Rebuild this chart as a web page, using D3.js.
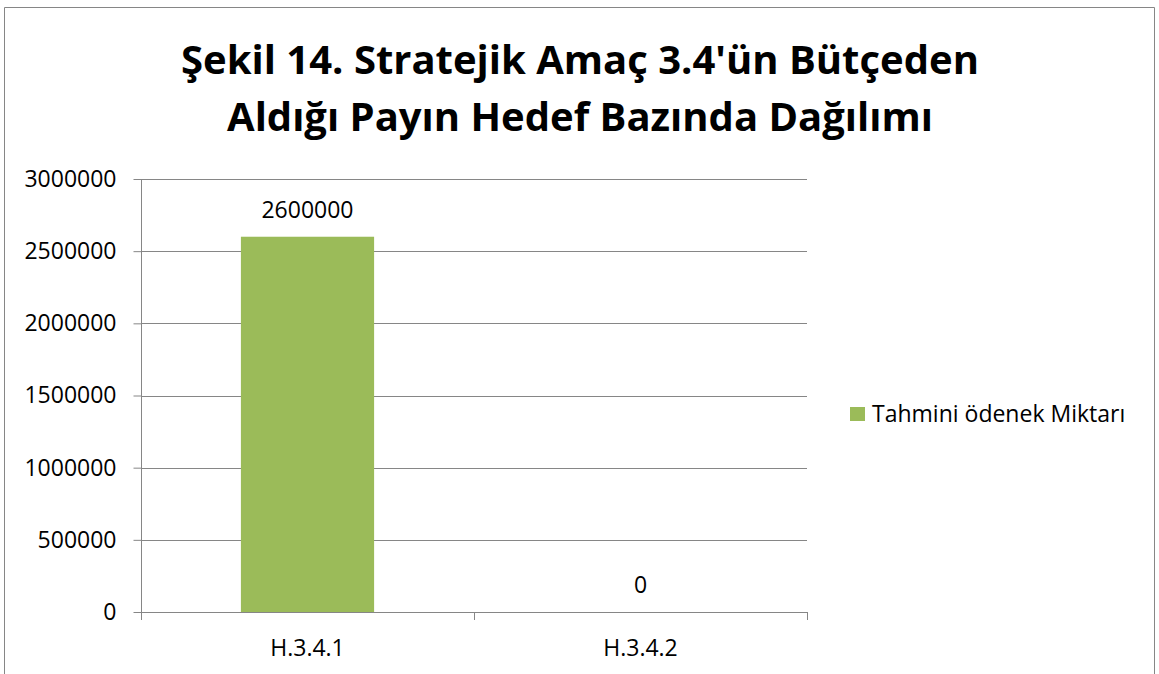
<!DOCTYPE html>
<html>
<head>
<meta charset="utf-8">
<script src="https://cdn.jsdelivr.net/npm/d3@7"></script>
<style>
  html, body { margin: 0; padding: 0; background: #fff; }
  svg { display: block; }
</style>
</head>
<body>
<svg id="chart" width="1159" height="674"></svg>
<script>
const titleLines = ["Şekil 14. Stratejik Amaç 3.4'ün Bütçeden", "Aldığı Payın Hedef Bazında Dağılımı"];
const categories = ["H.3.4.1", "H.3.4.2"];
const seriesName = "Tahmini ödenek Miktarı";
const values = [2600000, 0];
const yTicks = [0, 500000, 1000000, 1500000, 2000000, 2500000, 3000000];

const font = "'Open Sans', sans-serif";
const gridColor = "#868686";
const barColor = "#9BBB59";
const labelSize = 23;

const svg = d3.select("#chart");

// outer chart frame
svg.append("path")
  .attr("d", "M4.5,674 V7.5 H1154.5 V674")
  .attr("fill", "none").attr("stroke", gridColor).attr("stroke-width", 1);

// title
svg.append("g").selectAll("text").data(titleLines).join("text")
  .attr("x", 580).attr("y", (d, i) => 74 + i * 57)
  .attr("text-anchor", "middle")
  .attr("font-family", font).attr("font-weight", "bold").attr("font-size", 40)
  .attr("fill", "#000")
  .text(d => d);

const plot = { left: 141, right: 807, top: 179, bottom: 612 };

const x = d3.scaleBand().domain(categories).range([plot.left, plot.right]).paddingInner(0.6).paddingOuter(0.3);
const xOuter = d3.scaleBand().domain(categories).range([plot.left, plot.right]);
const y = d3.scaleLinear().domain([0, 3000000]).range([plot.bottom, plot.top]);

// horizontal gridlines
svg.append("g").selectAll("line").data(yTicks.filter(t => t > 0)).join("line")
  .attr("x1", plot.left).attr("x2", plot.right)
  .attr("y1", d => Math.round(y(d)) + 0.5).attr("y2", d => Math.round(y(d)) + 0.5)
  .attr("stroke", gridColor).attr("stroke-width", 1);

// bars
svg.append("g").selectAll("rect").data(values).join("rect")
  .attr("x", (d, i) => x(categories[i]))
  .attr("width", x.bandwidth())
  .attr("y", d => y(d))
  .attr("height", d => y(0) - y(d))
  .attr("fill", barColor);

// y axis
const yAxis = svg.append("g")
  .attr("transform", `translate(${plot.left + 0.5},0)`)
  .call(d3.axisLeft(y).tickValues(yTicks).tickSize(8).tickPadding(17).tickFormat(d3.format("d")));
yAxis.select(".domain").attr("stroke", gridColor).attr("d", `M0,${plot.top}V${plot.bottom + 8}`);
yAxis.selectAll(".tick line").attr("stroke", gridColor);
yAxis.selectAll(".tick text")
  .attr("font-family", font).attr("font-size", labelSize).attr("fill", "#000");

// x axis
const xAxis = svg.append("g")
  .attr("transform", `translate(0,${plot.bottom + 0.5})`)
  .call(d3.axisBottom(xOuter).tickSize(0).tickPadding(27));
xAxis.select(".domain").attr("stroke", gridColor).attr("d", `M${plot.left},0H${plot.right}`);
xAxis.selectAll(".tick text")
  .attr("font-family", font).attr("font-size", labelSize).attr("fill", "#000");
// category separators
const seps = [xOuter(categories[1]), plot.right];
svg.append("g").selectAll("line").data(seps).join("line")
  .attr("x1", d => Math.round(d) + 0.5).attr("x2", d => Math.round(d) + 0.5)
  .attr("y1", plot.bottom).attr("y2", plot.bottom + 8)
  .attr("stroke", gridColor);

// value labels
svg.append("g").selectAll("text").data(values).join("text")
  .attr("x", (d, i) => x(categories[i]) + x.bandwidth() / 2)
  .attr("y", d => y(d) - 19)
  .attr("text-anchor", "middle")
  .attr("font-family", font).attr("font-size", labelSize).attr("fill", "#000")
  .text(d => d);

// legend
const legend = svg.append("g").attr("transform", "translate(850,407)");
legend.append("rect").attr("width", 15).attr("height", 14).attr("fill", barColor);
legend.append("text").attr("x", 22).attr("y", 15)
  .attr("font-family", font).attr("font-size", labelSize).attr("fill", "#000")
  .text(seriesName);
</script>
</body>
</html>
